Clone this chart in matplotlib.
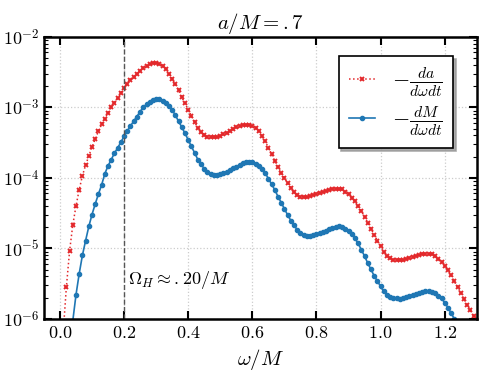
import numpy as np
import matplotlib
matplotlib.use("Agg")
import matplotlib.pyplot as plt
from matplotlib.ticker import LogLocator, FuncFormatter, NullFormatter

plt.rcParams['mathtext.fontset'] = 'cm'
plt.rcParams['font.family'] = 'serif'
plt.rcParams['font.serif'] = ['DejaVu Serif']

# log10 of -da/(dw dt), sampled every 0.01 in omega starting at 0.01
omega_a = np.round(np.arange(0.01, 1.295, 0.01), 2)
log_da = [
    -6.20, -5.55, -5.04, -4.67, -4.40, -4.17, -3.97, -3.82, -3.69, -3.56,
    -3.45, -3.34, -3.24, -3.16, -3.08, -3.00, -2.94, -2.87, -2.80, -2.72,
    -2.665, -2.615, -2.575, -2.53, -2.48, -2.445, -2.41, -2.39, -2.375, -2.372,
    -2.38, -2.41, -2.45, -2.52, -2.60, -2.67, -2.76, -2.86, -2.94, -3.035,
    -3.12, -3.21, -3.29, -3.35, -3.39, -3.415, -3.425, -3.425, -3.415, -3.40,
    -3.38, -3.36, -3.34, -3.31, -3.285, -3.27, -3.255, -3.245, -3.245, -3.26,
    -3.29, -3.34, -3.41, -3.48, -3.57, -3.665, -3.755, -3.845, -3.925, -4.00,
    -4.075, -4.145, -4.205, -4.245, -4.265, -4.27, -4.27, -4.26, -4.245, -4.23,
    -4.215, -4.20, -4.185, -4.17, -4.16, -4.155, -4.155, -4.165, -4.195, -4.235,
    -4.28, -4.33, -4.40, -4.47, -4.555, -4.635, -4.72, -4.805, -4.89, -4.965,
    -5.045, -5.105, -5.14, -5.16, -5.17, -5.172, -5.168, -5.155, -5.14, -5.12,
    -5.105, -5.09, -5.08, -5.078, -5.077, -5.08, -5.105, -5.145, -5.19, -5.25,
    -5.31, -5.385, -5.47, -5.55, -5.63, -5.72, -5.80, -5.88, -5.96,
]

# log10 of -dM/(dw dt), sampled every 0.01 in omega starting at 0.03
omega_m = np.round(np.arange(0.03, 1.245, 0.01), 2)
log_dm = [
    -6.60, -6.03, -5.66, -5.36, -5.10, -4.89, -4.69, -4.52,
    -4.37, -4.23, -4.10, -3.94, -3.83, -3.74, -3.65, -3.575, -3.495, -3.41,
    -3.335, -3.265, -3.195, -3.13, -3.06, -3.00, -2.955, -2.92, -2.895, -2.885,
    -2.887, -2.91, -2.94, -2.98, -3.04, -3.11, -3.20, -3.28, -3.37, -3.46,
    -3.555, -3.645, -3.74, -3.81, -3.87, -3.915, -3.945, -3.96, -3.96, -3.95,
    -3.93, -3.91, -3.89, -3.865, -3.84, -3.815, -3.795, -3.78, -3.775, -3.78,
    -3.80, -3.835, -3.88, -3.93, -4.01, -4.09, -4.17, -4.265, -4.35, -4.44,
    -4.525, -4.605, -4.675, -4.735, -4.78, -4.805, -4.82, -4.82, -4.81, -4.80,
    -4.785, -4.77, -4.75, -4.73, -4.71, -4.695, -4.69, -4.695, -4.72, -4.755,
    -4.80, -4.86, -4.93, -5.02, -5.11, -5.21, -5.30, -5.39, -5.465, -5.54,
    -5.61, -5.66, -5.69, -5.705, -5.71, -5.712, -5.708, -5.695, -5.68, -5.665,
    -5.65, -5.64, -5.625, -5.612, -5.61, -5.62, -5.64, -5.675, -5.71, -5.77,
    -5.84, -5.92, -6.00, -6.08,
]

omega_h = 0.20
xticks = [0.0, 0.2, 0.4, 0.6, 0.8, 1.0, 1.2]

fig = plt.figure(figsize=(4.88, 3.76), dpi=100)
ax = fig.add_axes([0.090, 0.152, 0.887, 0.750])

ax.plot(omega_a, 10.0 ** np.array(log_da), ls=':', lw=1.1, color='#e3282b',
        marker='x', ms=2.6, mew=1.4, label=r'$-\frac{da}{d\omega dt}$')
ax.plot(omega_m, 10.0 ** np.array(log_dm), ls='-', lw=1.2, color='#1f77b4',
        marker='o', ms=3, label=r'$-\frac{dM}{d\omega dt}$')
ax.axvline(omega_h, color='#555555', ls='--', lw=1)
ax.text(0.212, 3.5e-6, r'$\Omega_H \approx .20/M$', fontsize=13, va='center')

ax.set_yscale('log')
ax.set_ylim(1e-6, 1e-2)
ax.set_xlim(-0.05, 1.3)
ax.set_xticks(xticks)
ax.xaxis.set_major_formatter(FuncFormatter(lambda v, p: r'$%.1f$' % v))
ax.yaxis.set_major_locator(LogLocator(base=10, numticks=10))
ax.yaxis.set_minor_locator(LogLocator(base=10, subs=np.arange(2, 10), numticks=10))
ax.yaxis.set_minor_formatter(NullFormatter())
ax.yaxis.set_major_formatter(FuncFormatter(lambda v, p: r'$10^{%d}$' % round(np.log10(v))))

ax.tick_params(which='both', direction='in', top=True, right=True, labelsize=13)
ax.tick_params(which='major', length=6, width=1.5)
ax.tick_params(which='minor', length=3, width=0.8)
for s in ax.spines.values():
    s.set_linewidth(1.8)
ax.grid(True, which='major', ls=':', color='#cccccc', lw=0.9)

ax.set_title(r'$a/M = .7$', fontsize=15)
ax.set_xlabel(r'$\omega/M$', fontsize=15)

leg = ax.legend(loc='upper left', bbox_to_anchor=(0.681, 0.933), borderaxespad=0,
                fontsize=16, fancybox=False, shadow={'color': '0.6', 'alpha': 0.8},
                edgecolor='black', handlelength=1.2, handletextpad=0.75,
                borderpad=0.45, labelspacing=0.25)
leg.get_frame().set_linewidth(1.2)

fig.savefig('out.png', dpi=100)
